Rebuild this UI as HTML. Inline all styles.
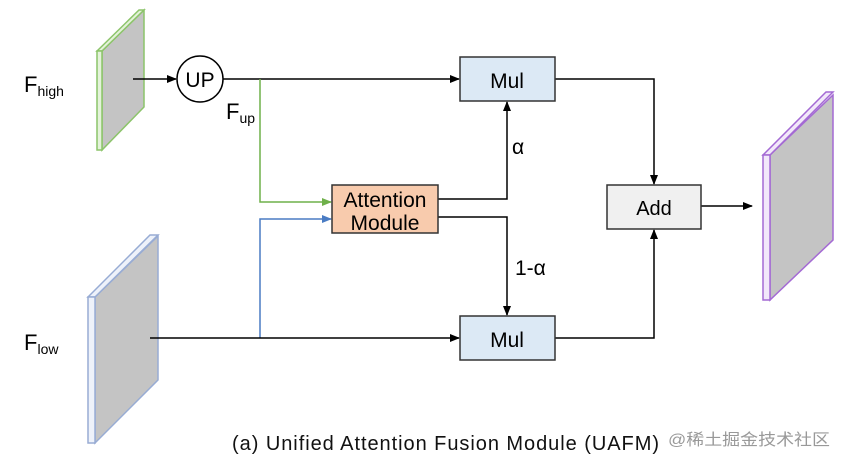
<!DOCTYPE html>
<html><head><meta charset="utf-8"><style>
html,body{margin:0;padding:0;background:#fff;}
svg{display:block;font-family:"Liberation Sans","DejaVu Sans","Noto Sans CJK SC",sans-serif;}
</style></head><body>
<svg width="843" height="465" viewBox="0 0 843 465" xmlns="http://www.w3.org/2000/svg">
<defs>
<marker id="ak" markerWidth="10" markerHeight="8" refX="9" refY="4" orient="auto" markerUnits="userSpaceOnUse"><path d="M0,0 L10,4 L0,8 z" fill="#000"/></marker>
<marker id="ag" markerWidth="10" markerHeight="8" refX="9" refY="4" orient="auto" markerUnits="userSpaceOnUse"><path d="M0,0 L10,4 L0,8 z" fill="#6fb04a"/></marker>
<marker id="ab" markerWidth="10" markerHeight="8" refX="9" refY="4" orient="auto" markerUnits="userSpaceOnUse"><path d="M0,0 L10,4 L0,8 z" fill="#4a7cc4"/></marker>
</defs>
<!-- F_high plate -->
<polygon points="102,51 144,10 144,107 102,150" fill="#c4c4c4" stroke="#8cc46a" stroke-width="1.5"/>
<polygon points="97,51 139,10 144,10 102,51" fill="#e4f2da" stroke="#8cc46a" stroke-width="1.5"/>
<rect x="97" y="51" width="5" height="99" fill="#e4f2da" stroke="#8cc46a" stroke-width="1.5"/>
<!-- F_low plate -->
<polygon points="95,297 158,236 158,380 95,443" fill="#c4c4c4" stroke="#98acd4" stroke-width="1.5"/>
<polygon points="88,297 150,235 158,235 95,297" fill="#eef2fa" stroke="#98acd4" stroke-width="1.5"/>
<rect x="88" y="297" width="7" height="146" fill="#eef2fa" stroke="#98acd4" stroke-width="1.5"/>
<!-- output plate -->
<polygon points="770,155 833,95 833,240 770,300" fill="#c4c4c4" stroke="#a46ad4" stroke-width="1.5"/>
<polygon points="763,155 826,92 833,92 770,155" fill="#f2e8fa" stroke="#a46ad4" stroke-width="1.5"/>
<rect x="763" y="155" width="7" height="145" fill="#f2e8fa" stroke="#a46ad4" stroke-width="1.5"/>
<!-- lines -->
<g fill="none" stroke-width="1.5">
<line x1="133" y1="79" x2="176" y2="79" stroke="#000" marker-end="url(#ak)"/>
<line x1="223" y1="79" x2="459" y2="79" stroke="#000" marker-end="url(#ak)"/>
<polyline points="260,79 260,202 331,202" stroke="#6fb04a" marker-end="url(#ag)"/>
<polyline points="260,338 260,219 331,219" stroke="#4a7cc4" marker-end="url(#ab)"/>
<line x1="150" y1="338" x2="459" y2="338" stroke="#000" marker-end="url(#ak)"/>
<polyline points="438,199 507,199 507,102" stroke="#000" marker-end="url(#ak)"/>
<polyline points="438,217 507,217 507,315" stroke="#000" marker-end="url(#ak)"/>
<polyline points="555,79 654,79 654,184" stroke="#000" marker-end="url(#ak)"/>
<polyline points="555,338 654,338 654,230" stroke="#000" marker-end="url(#ak)"/>
<line x1="701" y1="206" x2="752" y2="206" stroke="#000" marker-end="url(#ak)"/>
</g>
<!-- nodes -->
<circle cx="200" cy="79" r="23" fill="#fff" stroke="#000" stroke-width="1.5"/>
<text x="200" y="87" font-size="21" text-anchor="middle">UP</text>
<rect x="460" y="57" width="95" height="44" fill="#dce9f5" stroke="#333" stroke-width="1.5"/>
<text x="507" y="88" font-size="21" text-anchor="middle">Mul</text>
<rect x="460" y="316" width="95" height="44" fill="#dce9f5" stroke="#333" stroke-width="1.5"/>
<text x="507" y="347" font-size="21" text-anchor="middle">Mul</text>
<rect x="332" y="185" width="106" height="48" fill="#f8cbad" stroke="#333" stroke-width="1.5"/>
<text x="385" y="207" font-size="21" text-anchor="middle">Attention</text>
<text x="385" y="230" font-size="21" text-anchor="middle">Module</text>
<rect x="607" y="185" width="94" height="44" fill="#f0f0f0" stroke="#333" stroke-width="1.5"/>
<text x="654" y="215" font-size="20" text-anchor="middle">Add</text>
<!-- labels -->
<text x="24" y="92" font-size="22">F<tspan font-size="14" dy="4">high</tspan></text>
<text x="226" y="119" font-size="22">F<tspan font-size="14" dy="4">up</tspan></text>
<text x="24" y="350" font-size="22">F<tspan font-size="14" dy="4">low</tspan></text>
<text x="512" y="154" font-size="21">α</text>
<text x="515" y="275" font-size="21">1-α</text>
<text x="232" y="450" font-size="20" fill="#111" textLength="427" lengthAdjust="spacing">(a) Unified Attention Fusion Module (UAFM)</text>
<text x="668" y="445" font-size="16" fill="#999" textLength="162" lengthAdjust="spacingAndGlyphs">@稀土掘金技术社区</text>
</svg>
</body></html>
